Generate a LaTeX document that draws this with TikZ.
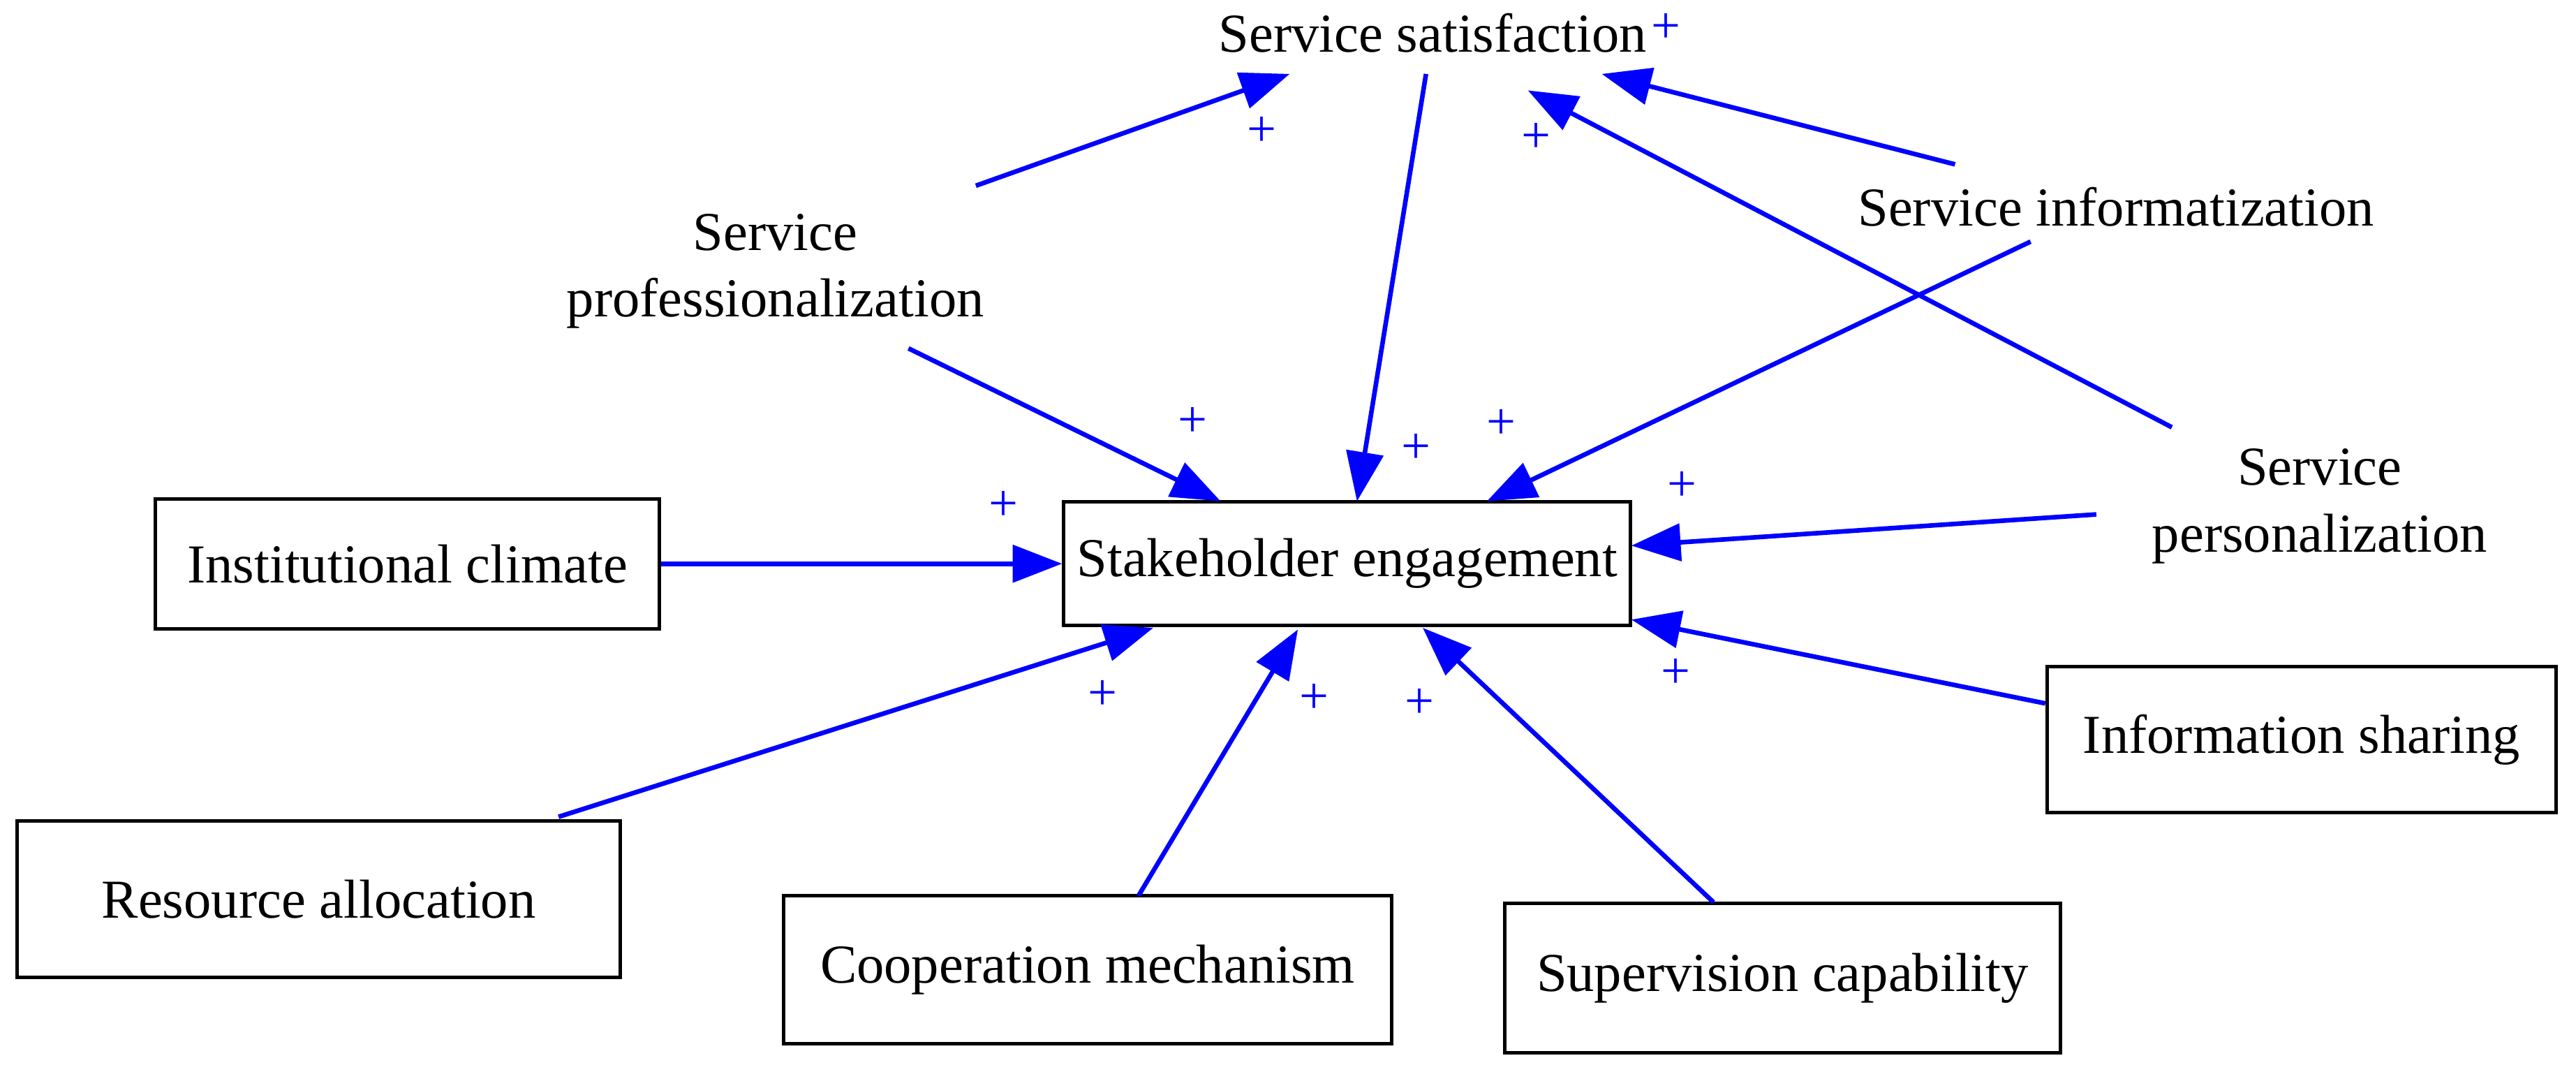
\documentclass[tikz,border=0pt]{standalone}
\usepackage{fontspec}
\setmainfont{Liberation Serif}
\usetikzlibrary{arrows.meta}
\tikzset{
    factor/.style = {rectangle, draw, line width=1.2pt, inner sep=0pt, font=\fontsize{19}{23}\selectfont},
    label/.style = {align=center, font=\fontsize{19}{23}\selectfont},
    link/.style = {draw, blue, line width=1.6pt, -{Triangle[length=0.6cm,width=0.45cm]}},
    sign/.style = {blue, font=\fontsize{18}{18}\selectfont}
}
\begin{document}
\begin{tikzpicture}[x=0.02cm, y=-0.02cm]
    \useasboundingbox (0,0) rectangle (1568,652);
    % Place nodes
    \node [factor, minimum width=345*0.02cm, minimum height=75*0.02cm] (engage) at (820,343) {Stakeholder engagement};
    \node [factor, minimum width=307*0.02cm, minimum height=79*0.02cm] (climate) at (248,343) {Institutional climate};
    \node [factor, minimum width=310*0.02cm, minimum height=89*0.02cm] (sharing) at (1401,450) {Information sharing};
    \node [factor, minimum width=367*0.02cm, minimum height=95*0.02cm] (resource) at (194,547) {Resource allocation};
    \node [factor, minimum width=370*0.02cm, minimum height=90*0.02cm] (coop) at (662,590) {Cooperation mechanism};
    \node [factor, minimum width=338*0.02cm, minimum height=91*0.02cm] (super) at (1085,595) {Supervision capability};

    \node [label] (satis) at (872,20) {Service satisfaction};
    \node [label] (prof) at (472,165) {Service\\professionalization};
    \node [label] (inform) at (1288,126) {Service informatization};
    \node [label] (person) at (1412,308) {Service\\personalization};

    % Connector ends
    \coordinate (p1) at (594,113);
    \coordinate (p2) at (553,212);
    \coordinate (s1) at (785,45);
    \coordinate (s2) at (975,45);
    \coordinate (s3) at (930,55);
    \coordinate (s0) at (868,45);
    \coordinate (i1) at (1190,100);
    \coordinate (i2) at (1236,147);
    \coordinate (r1) at (1322,260);
    \coordinate (r2) at (1276,313);
    \coordinate (e1) at (743,305);
    \coordinate (e2) at (826,305);
    \coordinate (e3) at (905,305);
    \coordinate (e4) at (993,332);
    \coordinate (e5) at (993,377);
    \coordinate (e6) at (702,382);
    \coordinate (e7) at (790,383);
    \coordinate (e8) at (866,382);

    % Draw lines
    \path [link] (p1) -- (s1);
    \path [link] (p2) -- (e1);
    \path [link] (s0) -- (e2);
    \path [link] (i1) -- (s2);
    \path [link] (i2) -- (e3);
    \path [link] (r1) -- (s3);
    \path [link] (r2) -- (e4);
    \path [link] (climate) -- (engage);
    \path [link] (sharing.west |- 0,428) -- (e5);
    \path [link] (340,497) -- (e6);
    \path [link] (coop.north |- 0,545) ++(31,0) -- (e7);
    \path [link] (1043,549) -- (e8);

    % Polarity signs
    \node [sign] at (768,80) {+};
    \node [sign] at (726,257) {+};
    \node [sign] at (862,273) {+};
    \node [sign] at (1014,17) {+};
    \node [sign] at (914,258) {+};
    \node [sign] at (935,84) {+};
    \node [sign] at (1024,296) {+};
    \node [sign] at (611,308) {+};
    \node [sign] at (1020,410) {+};
    \node [sign] at (671,423) {+};
    \node [sign] at (800,425) {+};
    \node [sign] at (864,428) {+};
\end{tikzpicture}
\end{document}
